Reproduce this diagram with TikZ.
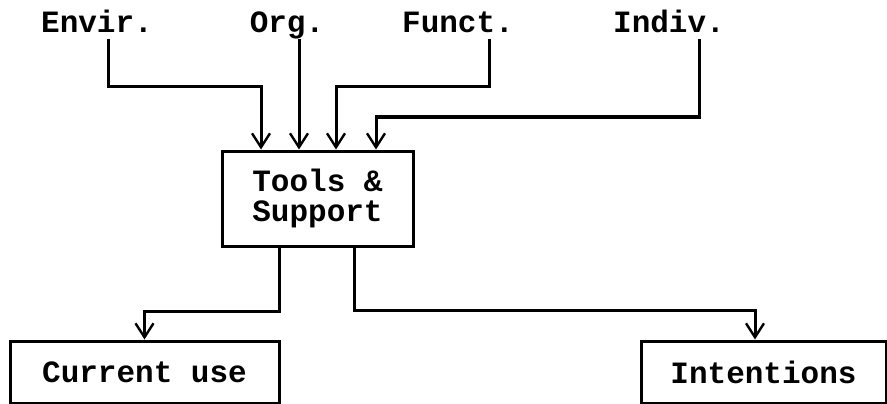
\documentclass[tikz,border=0pt]{standalone}
\usepackage{fontspec}
\setmonofont{Liberation Mono}
\usetikzlibrary{arrows.meta}
\begin{document}
\begin{tikzpicture}[x=1pt,y=-1pt,
  lbl/.style={font=\ttfamily\bfseries\fontsize{31}{30}\selectfont, inner sep=0pt, anchor=base},
  box/.style={draw, line width=3pt, font=\ttfamily\bfseries\fontsize{31}{30}\selectfont, align=center, inner sep=0pt},
  arr/.style={line width=3pt, -{Straight Barb[length=14pt,width=18pt,line width=2.4pt]}}]
\useasboundingbox[fill=white] (0,0) rectangle (887,404);
\node[lbl] (envir) at (97,33) {Envir.};
\node[lbl] (org) at (287,33) {Org.};
\node[lbl] (funct) at (458,33) {Funct.};
\node[lbl] (indiv) at (669,33) {Indiv.};
\node[box, minimum width=191pt, minimum height=95pt] (tools) at (317.5,198.5) {Tools \&\\Support};
\node[box, minimum width=269pt, minimum height=62pt] (cur) at (144.5,372) {Current use};
\node[box, minimum width=245pt, minimum height=62pt] (int) at (763.5,372) {Intentions};
\draw[arr] ([xshift=11pt,yshift=-6pt]envir.base) -- ++(0,48) -| ([xshift=-56.5pt]tools.north);
\draw[arr] ([xshift=12pt,yshift=-6pt]org.base) -- ([xshift=-18.5pt]tools.north);
\draw[arr] ([xshift=31pt,yshift=-6pt]funct.base) -- ++(0,48) -| ([xshift=18.5pt]tools.north);
\draw[arr] ([xshift=30pt,yshift=-6pt]indiv.base) -- ++(0,78) -| ([xshift=58.5pt]tools.north);
\draw[arr] ([xshift=-38.5pt]tools.south) -- ++(0,64) -| (cur.north);
\draw[arr] ([xshift=36.5pt]tools.south) -- ++(0,63) -| ([xshift=-8.5pt]int.north);
\end{tikzpicture}
\end{document}
